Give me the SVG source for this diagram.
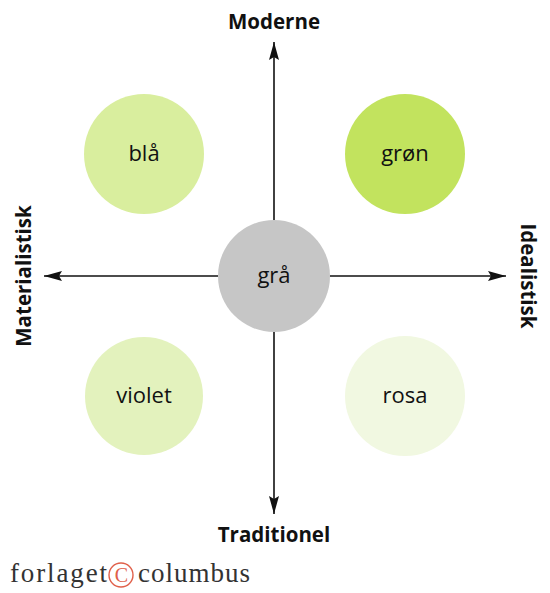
<svg xmlns="http://www.w3.org/2000/svg" width="550" height="593" viewBox="0 0 550 593">
<defs>
<marker id="ah" viewBox="0 0 18 10" refX="18" refY="5" markerWidth="18" markerHeight="10" markerUnits="userSpaceOnUse" orient="auto">
<path d="M0,0 L18,5 L0,10 L3,5 Z" fill="#111"/>
</marker>
<style>
.ax{stroke:#111;stroke-width:1.6;fill:none}
.lbl{font-family:"Open Sans","Liberation Sans",sans-serif;font-weight:bold;font-size:20.5px;fill:#111;text-anchor:middle}
.nd{font-family:"Open Sans","Liberation Sans",sans-serif;font-size:22px;fill:#111;text-anchor:middle}
.ft{font-family:"Liberation Serif",serif;font-size:27px;fill:#333}
</style>
</defs>
<rect width="550" height="593" fill="#fff"/>
<g id="connectors">
<line class="ax" x1="274" y1="220" x2="274" y2="42" marker-end="url(#ah)"/>
<line class="ax" x1="274" y1="332" x2="274" y2="514" marker-end="url(#ah)"/>
<line class="ax" x1="218" y1="276" x2="44" y2="276" marker-end="url(#ah)"/>
<line class="ax" x1="330" y1="276" x2="506" y2="276" marker-end="url(#ah)"/>
</g>
<g id="axis-labels">
<text class="lbl" x="274" y="29">Moderne</text>
<text class="lbl" x="274" y="542">Traditionel</text>
<text class="lbl" transform="translate(31,276) rotate(-90)">Materialistisk</text>
<text class="lbl" transform="translate(521,276) rotate(90)">Idealistisk</text>
</g>
<g id="node-gra">
<circle cx="274" cy="276" r="56" fill="#c6c6c6"/>
<text class="nd" x="274" y="283">grå</text>
</g>
<g id="node-bla">
<circle cx="144" cy="154" r="60" fill="#d9ee9e"/>
<text class="nd" x="144" y="161">blå</text>
</g>
<g id="node-gron">
<circle cx="405" cy="154" r="60" fill="#c2e35e"/>
<text class="nd" x="405" y="161">grøn</text>
</g>
<g id="node-violet">
<circle cx="144" cy="396" r="59" fill="#e3f2bd"/>
<text class="nd" x="144" y="403">violet</text>
</g>
<g id="node-rosa">
<circle cx="405" cy="396" r="60" fill="#f1f8e1"/>
<text class="nd" x="405" y="403">rosa</text>
</g>
<g id="footer">
<text class="ft" x="10" y="582" textLength="97" lengthAdjust="spacing">forlaget</text>
<circle cx="121" cy="575" r="12" fill="none" stroke="#e0604a" stroke-width="1.4"/>
<text x="121.5" y="582" font-family="Liberation Serif,serif" font-size="20" fill="#e0604a" text-anchor="middle">C</text>
<text class="ft" x="138" y="582" textLength="112" lengthAdjust="spacing">columbus</text>
</g>
</svg>
